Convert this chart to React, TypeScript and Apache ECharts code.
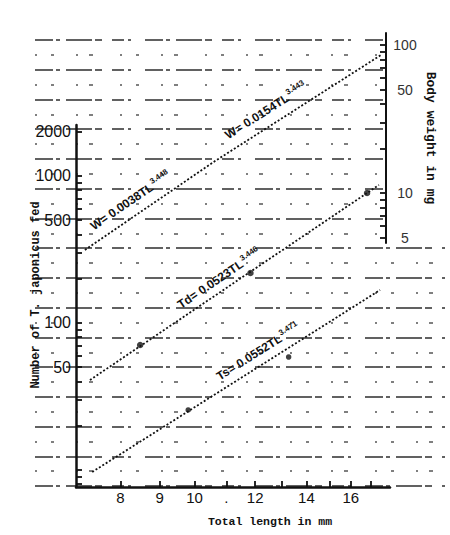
import React, { useEffect, useRef } from "react";
import * as echarts from "echarts";

// ---------------- data ----------------
const xTickValues = [8, 9, 10, 11, 12, 13, 14, 15, 16, 17];
const xLabelValues = [8, 9, 10, 11, 12, 14, 16];
const xLabelTexts = ["8", "9", "10", ".", "12", "14", "16"];

const countTickValues = [8, 9, 10, 20, 30, 40, 50, 60, 70, 80, 90, 100, 200, 300, 400, 500, 600, 700, 800, 900, 1000, 2000];
const countLabelValues = [50, 100, 500, 1000, 2000];

const weightTickValues = [5, 6, 7, 8, 9, 10, 20, 30, 40, 50, 60, 70, 80, 90, 100];
const weightLabelValues = [5, 10, 50, 100];

// body weight line (right axis, mg)
const wtLengths = [7.19, 10.59, 17.52];
const wtWeights = [4.12, 16.2, 85.6];

// Td line and its points (left axis, number fed)
const tdLengths = [7.3, 17.41];
const tdCounts = [40.9, 868.6];
const tdDotLengths = [8.49, 11.83, 16.8];
const tdDotCounts = [70.8, 218.8, 766];

// Ts line and its points (left axis, number fed)
const tsLengths = [7.35, 17.47];
const tsCounts = [9.69, 167.7];
const tsDotLengths = [9.81, 13.27];
const tsDotCounts = [25.6, 58.7];

const equationTexts = ["W= 0.0038TL", "W= 0.0154TL", "Td= 0.0523TL", "Ts= 0.0552TL"];
const equationExponents = ["3.448", "3.443", "3.446", "3.471"];

// ---------------- layout ----------------
const X_MIN = 7;
const X_MAX = 18;
const COUNT_MIN = 7.66;
const COUNT_MAX = 2223;
const WEIGHT_MAX = 120.5;
const WEIGHT_AXIS_MIN = 4.595;
const WEIGHT_FULL_MIN = 0.1031;
const RULE = 14.87; // spacing of the ruled paper lines

const zip = (a: number[], b: number[]) => a.map((v, i) => [v, b[i]]);
const lg = (v: number) => Math.log10(v);

const INK = "#111";
const numFont = "Liberation Sans";
const monoFont = "Liberation Mono";

export default function App() {
  const ref = useRef<HTMLDivElement>(null);

  useEffect(() => {
    if (!ref.current) return;
    const chart = echarts.init(ref.current, null, { renderer: "svg" });

    const hidden = (gridIndex: number, type: "log" | "value", min: number, max: number) => ({
      type,
      gridIndex,
      min,
      max,
      show: false,
      axisLine: { show: false },
      axisTick: { show: false },
      axisLabel: { show: false },
      splitLine: { show: false },
    });

    // tick-only companion axes (log-decade positions of the printed ticks)
    const tickAxis = (gridIndex: number, min: number, max: number, values: number[], position: string) => ({
      type: "value" as const,
      gridIndex,
      min: lg(min),
      max: lg(max),
      position,
      axisLine: { show: false, onZero: false },
      axisTick: {
        show: true,
        inside: true,
        length: 6,
        customValues: values.map(lg),
        lineStyle: { color: INK, width: 1.8 },
      },
      axisLabel: { show: false },
      splitLine: { show: false },
    });

    const strongRule = { color: "#2e2e2e", width: 1.5, type: [18, 3, 4, 6, 26, 3, 7, 10, 12, 4, 3, 14] };
    const weakRule = { color: "#555", width: 1.6, type: [2, 14, 3, 22, 2, 11, 4, 27] };

    const textureY = (gridIndex: number, max: number, style: any) => ({
      type: "value" as const,
      gridIndex,
      min: 0,
      max,
      interval: 2,
      inverse: true,
      axisLine: { show: false },
      axisTick: { show: false },
      axisLabel: { show: false },
      splitLine: { show: true, lineStyle: style },
    });

    const g = (left: number, top: number, width: number, height: number) => ({
      left,
      top,
      width,
      height,
      outerBoundsMode: "none",
      containLabel: false,
    });

    const option: any = {
      animation: false,
      backgroundColor: "#fff",
      grid: [
        g(76, 125, 314, 362), // 0 main (length x number fed)
        g(76, 33, 310, 210), // 1 right axis (body weight)
        g(76, 33, 314, 454), // 2 body weight line
        g(35, 40, RULE * 12), // placeholder replaced below
      ],
      xAxis: [],
      yAxis: [],
      series: [],
    };
    option.grid = [
      g(76, 125, 314, 362), // 0 main (length x number fed)
      g(76, 33, 310, 210), // 1 right axis (body weight)
      g(76, 33, 314, 454), // 2 body weight line
      g(35, 40, 350, RULE * 12), // 3 ruled lines (strong, upper)
      g(35, 40 + RULE, 350, RULE * 12), // 4 ruled lines (weak, upper)
      g(35, 40 + RULE * 14, 410, RULE * 16), // 5 ruled lines (strong, lower)
      g(35, 40 + RULE * 15, 410, RULE * 14), // 6 ruled lines (weak, lower)
      g(76, 125, 314, 362), // 7 ticks for main axes
      g(76, 33, 310, 210), // 8 ticks for right axis
    ];

    option.xAxis = [
      {
        type: "log",
        logBase: 10,
        gridIndex: 0,
        min: X_MIN,
        max: X_MAX,
        position: "bottom",
        axisLine: { show: true, onZero: false, lineStyle: { color: INK, width: 2.5 } },
        axisTick: { show: false },
        minorTick: { show: false },
        axisLabel: {
          show: true,
          customValues: xLabelValues,
          formatter: (v: number) => {
            const i = xLabelValues.findIndex((x) => Math.abs(x - v) < 0.01);
            return i >= 0 ? xLabelTexts[i] : "";
          },
          margin: 3,
          fontSize: 15,
          color: INK,
          fontFamily: numFont,
        },
        splitLine: { show: false },
        name: "Total length in mm",
        nameLocation: "middle",
        nameGap: 28,
        nameMoveOverlap: false,
        nameTextStyle: {
          fontFamily: monoFont,
          fontWeight: "bold",
          fontSize: 11.5,
          color: INK,
          padding: [0, 0, 0, 74],
        },
      },
      hidden(1, "log", X_MIN, X_MAX),
      hidden(2, "log", X_MIN, X_MAX),
      hidden(3, "value", 0, 1),
      hidden(4, "value", 0, 1),
      hidden(5, "value", 0, 1),
      hidden(6, "value", 0, 1),
      tickAxis(7, X_MIN, X_MAX, xTickValues, "bottom"),
      hidden(8, "value", 0, 1),
    ];

    option.yAxis = [
      {
        type: "log",
        logBase: 10,
        gridIndex: 0,
        min: COUNT_MIN,
        max: COUNT_MAX,
        position: "left",
        axisLine: { show: true, onZero: false, lineStyle: { color: INK, width: 2.5 } },
        axisTick: { show: false },
        minorTick: { show: false },
        axisLabel: {
          show: true,
          customValues: countLabelValues,
          formatter: (v: number) => String(Math.round(v)),
          margin: 5,
          fontSize: 16,
          color: INK,
          fontFamily: numFont,
        },
        splitLine: { show: false },
        name: "Number of T. japonicus fed",
        nameLocation: "middle",
        nameRotate: 90,
        nameGap: 34,
        nameMoveOverlap: false,
        nameTextStyle: {
          fontFamily: monoFont,
          fontWeight: "bold",
          fontSize: 12,
          color: INK,
          padding: [0, 0, 0, 22],
        },
      },
      {
        type: "log",
        logBase: 10,
        gridIndex: 1,
        min: WEIGHT_AXIS_MIN,
        max: WEIGHT_MAX,
        position: "right",
        axisLine: { show: true, onZero: false, lineStyle: { color: INK, width: 2 } },
        axisTick: { show: false },
        minorTick: { show: false },
        axisLabel: {
          show: true,
          customValues: weightLabelValues,
          formatter: (v: number) => String(Math.round(v)),
          margin: 19,
          align: "center",
          fontSize: 14,
          color: "#333",
          fontFamily: numFont,
        },
        splitLine: { show: false },
        name: "Body weight in mg",
        nameLocation: "middle",
        nameRotate: -90,
        nameGap: 38,
        nameMoveOverlap: false,
        nameTextStyle: {
          fontFamily: monoFont,
          fontWeight: "bold",
          fontSize: 13,
          color: INK,
        },
      },
      hidden(2, "log", WEIGHT_FULL_MIN, WEIGHT_MAX),
      textureY(3, 12, strongRule),
      textureY(4, 12, weakRule),
      textureY(5, 16, strongRule),
      textureY(6, 14, weakRule),
      tickAxis(7, COUNT_MIN, COUNT_MAX, countTickValues, "left"),
      tickAxis(8, WEIGHT_AXIS_MIN, WEIGHT_MAX, weightTickValues, "right"),
    ];

    const dotted = { color: INK, width: 1.8, type: [2, 2] };
    option.series = [
      {
        name: "Wt",
        type: "line",
        xAxisIndex: 2,
        yAxisIndex: 2,
        data: zip(wtLengths, wtWeights),
        symbol: "none",
        lineStyle: dotted,
        z: 5,
      },
      {
        name: "Td",
        type: "line",
        xAxisIndex: 0,
        yAxisIndex: 0,
        data: zip(tdLengths, tdCounts),
        symbol: "none",
        lineStyle: dotted,
        z: 5,
      },
      {
        name: "Td points",
        type: "scatter",
        xAxisIndex: 0,
        yAxisIndex: 0,
        data: zip(tdDotLengths, tdDotCounts),
        symbol: "circle",
        symbolSize: 6.5,
        itemStyle: { color: INK },
        z: 6,
      },
      {
        name: "Ts",
        type: "line",
        xAxisIndex: 0,
        yAxisIndex: 0,
        data: zip(tsLengths, tsCounts),
        symbol: "none",
        lineStyle: dotted,
        z: 5,
      },
      {
        name: "Ts points",
        type: "scatter",
        xAxisIndex: 0,
        yAxisIndex: 0,
        data: zip(tsDotLengths, tsDotCounts),
        symbol: "circle",
        symbolSize: 5.5,
        itemStyle: { color: INK },
        z: 6,
      },
    ];

    chart.setOption(option);

    // equation labels placed along their lines, through the axes' own scales
    const labelPlacements = [
      { axes: { xAxisIndex: 2, yAxisIndex: 2 }, a: [wtLengths[0], wtWeights[0]], b: [wtLengths[1], wtWeights[1]], t: 0.42, off: 16 },
      { axes: { xAxisIndex: 2, yAxisIndex: 2 }, a: [wtLengths[1], wtWeights[1]], b: [wtLengths[2], wtWeights[2]], t: 0.36, off: 16 },
      { axes: { xAxisIndex: 0, yAxisIndex: 0 }, a: [tdLengths[0], tdCounts[0]], b: [tdLengths[1], tdCounts[1]], t: 0.47, off: 13 },
      { axes: { xAxisIndex: 0, yAxisIndex: 0 }, a: [tsLengths[0], tsCounts[0]], b: [tsLengths[1], tsCounts[1]], t: 0.6, off: 14 },
    ];

    const graphics = labelPlacements.map((p, i) => {
      const pa = chart.convertToPixel(p.axes as any, p.a) as number[];
      const pb = chart.convertToPixel(p.axes as any, p.b) as number[];
      const ang = Math.atan2(pa[1] - pb[1], pb[0] - pa[0]);
      const cx = pa[0] + p.t * (pb[0] - pa[0]) - Math.sin(ang) * p.off;
      const cy = pa[1] + p.t * (pb[1] - pa[1]) - Math.cos(ang) * p.off;
      return {
        type: "text",
        x: cx,
        y: cy,
        rotation: ang,
        z: 10,
        style: {
          text: `{m|${equationTexts[i]}}{s|${equationExponents[i]}}`,
          align: "center",
          verticalAlign: "middle",
          fill: INK,
          rich: {
            m: { fontFamily: numFont, fontWeight: "bold", fontSize: 12, fill: INK, verticalAlign: "bottom" },
            s: { fontFamily: numFont, fontWeight: "bold", fontSize: 8, fill: INK, verticalAlign: "top", padding: [0, 0, 6, 1] },
          },
        },
      };
    });

    chart.setOption({ graphic: graphics });

    return () => {
      chart.dispose();
    };
  }, []);

  return (
    <div
      ref={ref}
      style={{ position: "fixed", left: 0, top: 0, width: 450, height: 535, background: "#fff" }}
    />
  );
}
